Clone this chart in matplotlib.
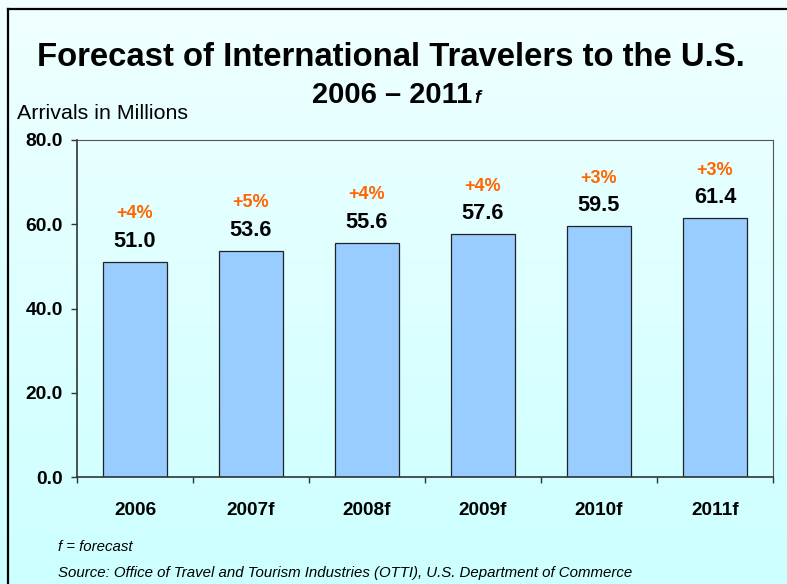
import matplotlib
matplotlib.use("Agg")
import matplotlib.pyplot as plt
import numpy as np
from matplotlib.lines import Line2D

plt.rcParams['font.family'] = ['Liberation Sans', 'DejaVu Sans']

categories = ["2006", "2007f", "2008f", "2009f", "2010f", "2011f"]
arrivals = [51.0, 53.6, 55.6, 57.6, 59.5, 61.4]
growth = ["+4%", "+5%", "+4%", "+4%", "+3%", "+3%"]
yticks = [0, 20, 40, 60, 80]

W, H = 787, 584
fig = plt.figure(figsize=(W / 100, H / 100), dpi=100)

# gradient background
bg = fig.add_axes([0, 0, 1, 1], zorder=-10)
grad = np.linspace(0, 1, 256)[:, None]
top = np.array([240, 255, 255]) / 255
bot = np.array([204, 255, 255]) / 255
img = top[None, None, :] * (1 - grad[:, :, None]) + bot[None, None, :] * grad[:, :, None]
bg.imshow(img, aspect='auto', extent=[0, 1, 0, 1], origin='upper')
bg.set_axis_off()

# frame (left and top edges)
fig.add_artist(Line2D([8 / W, 8 / W], [0, 1 - 9 / H], color='black', lw=1.6, transform=fig.transFigure))
fig.add_artist(Line2D([8 / W, 1], [1 - 9 / H, 1 - 9 / H], color='black', lw=1.6, transform=fig.transFigure))

L, R, T, B = 77, 773, 140, 477
ax = fig.add_axes([L / W, 1 - B / H, (R - L) / W, (B - T) / H])
ax.set_facecolor('none')

x = np.arange(len(categories))
ax.bar(x, arrivals, width=0.56, color='#99ccff', edgecolor='#222222', linewidth=0.9, zorder=2)
ax.set_xlim(-0.5, len(categories) - 0.5)
ax.set_ylim(0, 80)

for i, (v, g) in enumerate(zip(arrivals, growth)):
    ax.text(i, v + 3.6, f"{v:.1f}", ha='center', va='baseline', fontsize=15.7,
            fontweight='bold', color='black')
    ax.text(i, v + 10.4, g, ha='center', va='baseline', fontsize=13,
            fontweight='bold', color='#ff6600')

ax.set_yticks(yticks)
ax.set_yticklabels([f"{t:.1f}" for t in yticks], fontsize=13.9, fontweight='bold')
ax.tick_params(axis='y', direction='out', length=4, width=1, color='#333333', pad=6)

ax.set_xticks(x)
ax.set_xticklabels(categories, fontsize=13.7, fontweight='bold')
ax.set_xticks(np.arange(-0.5, len(categories), 1), minor=True)
ax.tick_params(axis='x', which='major', length=0, pad=18)
ax.tick_params(axis='x', which='minor', direction='out', length=4, width=1, color='#333333')

for s in ['left', 'bottom']:
    ax.spines[s].set_color('#333333')
    ax.spines[s].set_linewidth(1.2)
for s in ['top', 'right']:
    ax.spines[s].set_color('#555555')
    ax.spines[s].set_linewidth(0.8)

# titles
fig.text(391 / W, 1 - 66 / H, "Forecast of International Travelers to the U.S.",
         ha='center', va='baseline', fontsize=23.7, fontweight='bold')
fig.text(472 / W, 1 - 103 / H, "2006 \u2013 2011", ha='right', va='baseline',
         fontsize=21, fontweight='bold')
fig.text(474 / W, 1 - 103 / H, "f", ha='left', va='baseline', fontsize=13,
         fontweight='bold', style='italic')

fig.text(17 / W, 1 - 119 / H, "Arrivals in Millions", ha='left', va='baseline', fontsize=15.4)

fig.text(58 / W, 1 - 551 / H, "f = forecast", ha='left', va='baseline', fontsize=10.8, style='italic')
fig.text(58 / W, 1 - 577 / H,
         "Source: Office of Travel and Tourism Industries (OTTI), U.S. Department of Commerce",
         ha='left', va='baseline', fontsize=10.8, style='italic')

fig.savefig("out.png", dpi=100)
